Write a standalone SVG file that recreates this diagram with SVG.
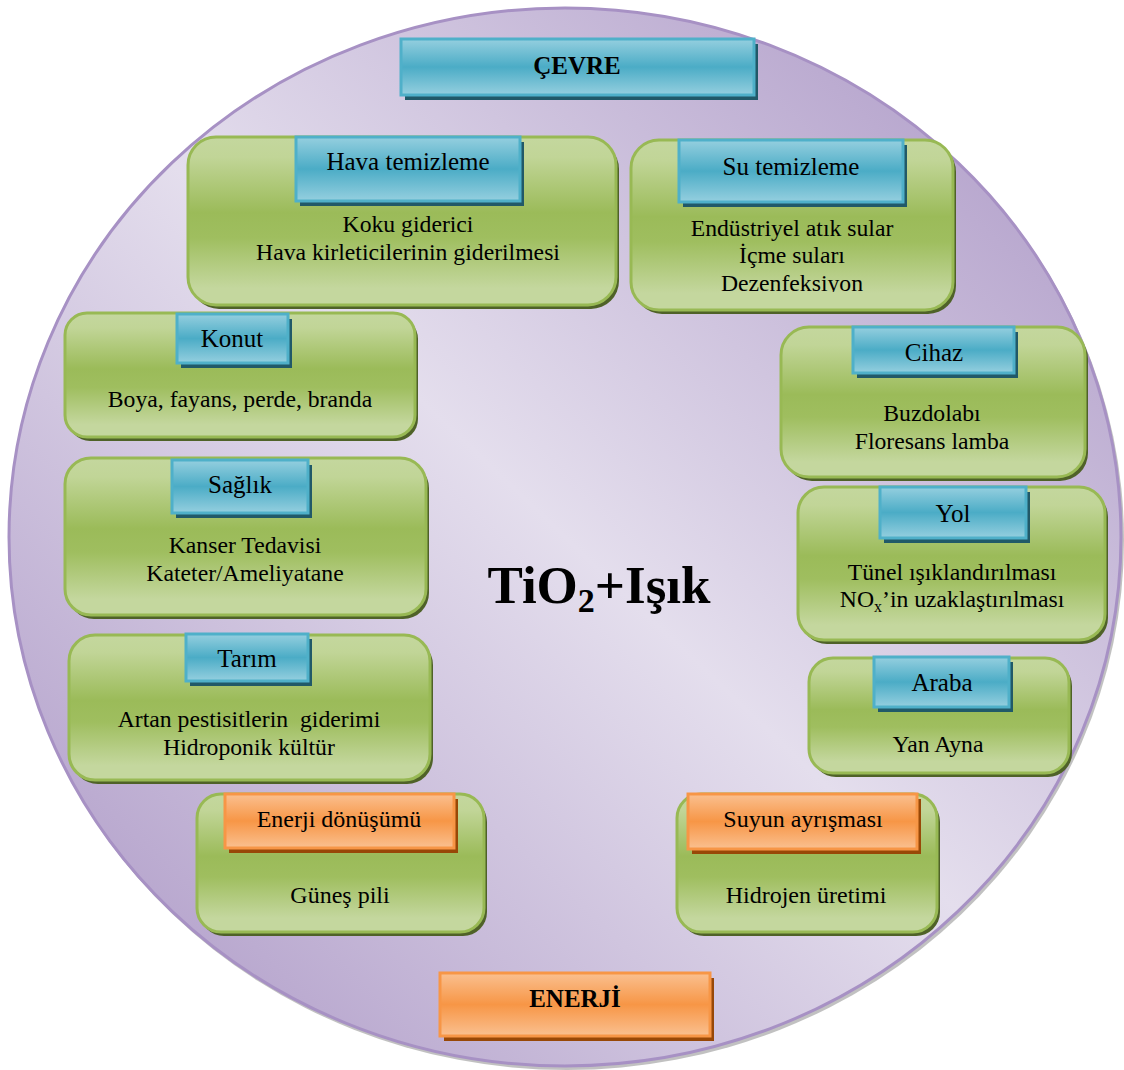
<svg xmlns="http://www.w3.org/2000/svg" width="1124" height="1070" viewBox="0 0 1124 1070" font-family="'Liberation Serif', 'Times New Roman', serif">
<defs>
<linearGradient id="bgG" x1="0" y1="1" x2="1" y2="0">
<stop offset="0" stop-color="#a893c3"/>
<stop offset="0.5" stop-color="#e4deed"/>
<stop offset="1" stop-color="#a893c3"/>
</linearGradient>
<linearGradient id="greenG" x1="0" y1="0" x2="0" y2="1">
<stop offset="0" stop-color="#c4d79e"/>
<stop offset="0.12" stop-color="#c1d597"/>
<stop offset="0.45" stop-color="#9bbb59"/>
<stop offset="0.6" stop-color="#9fbe5f"/>
<stop offset="0.9" stop-color="#c4d79e"/>
<stop offset="1" stop-color="#c4d79e"/>
</linearGradient>
<linearGradient id="blueG" x1="0" y1="0" x2="0" y2="1">
<stop offset="0" stop-color="#95cfdf"/>
<stop offset="0.5" stop-color="#4bacc6"/>
<stop offset="1" stop-color="#95cfdf"/>
</linearGradient>
<linearGradient id="orangeG" x1="0" y1="0" x2="0" y2="1">
<stop offset="0" stop-color="#fac090"/>
<stop offset="0.5" stop-color="#f79646"/>
<stop offset="1" stop-color="#fac090"/>
</linearGradient>
<clipPath id="suClip"><rect x="631" y="140" width="322" height="152"/></clipPath>
<style>
.gbox{fill:url(#greenG);stroke:#98b954;stroke-width:3}
.gsh{fill:#4f6228}
.bbox{fill:url(#blueG);stroke:#4fb0c9;stroke-width:3}
.bsh{fill:#215968}
.obox{fill:url(#orangeG);stroke:#f79646;stroke-width:3}
.osh{fill:#984807}
text{fill:#000;text-anchor:middle;font-family:"Liberation Serif","Times New Roman",serif}
.ht{font-size:25px}
.bt{font-size:23.7px}
.et{font-size:24px}
.big{font-size:25px;font-weight:bold}
</style>
</defs>

<g id="background">
<ellipse cx="567" cy="540" rx="557" ry="530" fill="#8e8e8e" opacity="0.55"/>
<ellipse cx="565" cy="537" rx="556" ry="529" fill="url(#bgG)" stroke="#a791c4" stroke-width="3"/>
</g>

<g id="connectors"/>

<g id="cevre">
<rect class="bsh" x="405" y="44" width="353" height="56"/>
<rect class="bbox" x="401" y="39" width="353" height="56"/>
<text class="big" x="577" y="74">ÇEVRE</text>
</g>

<g id="hava">
<rect class="gsh" x="191" y="141" width="428" height="168" rx="28"/>
<rect class="gbox" x="188" y="137" width="428" height="168" rx="28"/>
<rect class="bsh" x="300" y="142" width="224" height="64"/>
<rect class="bbox" x="296" y="137" width="224" height="64"/>
<text class="ht" x="408" y="170">Hava temizleme</text>
<text class="bt" x="408" y="232">Koku giderici</text>
<text class="bt" x="408" y="260">Hava kirleticilerinin giderilmesi</text>
</g>

<g id="su">
<rect class="gsh" x="634" y="144" width="322" height="170" rx="28"/>
<rect class="gbox" x="631" y="140" width="322" height="170" rx="28"/>
<rect class="bsh" x="683" y="145" width="224" height="62"/>
<rect class="bbox" x="679" y="140" width="224" height="62"/>
<text class="ht" x="791" y="175">Su temizleme</text>
<text class="bt" x="792" y="236">Endüstriyel atık sular</text>
<text class="bt" x="792" y="263">İçme suları</text>
<text class="bt" x="792" y="291" clip-path="url(#suClip)">Dezenfeksiyon</text>
</g>

<g id="konut">
<rect class="gsh" x="68" y="317" width="350" height="124" rx="22"/>
<rect class="gbox" x="65" y="313" width="350" height="124" rx="22"/>
<rect class="bsh" x="181" y="319" width="111" height="49"/>
<rect class="bbox" x="177" y="314" width="111" height="49"/>
<text class="ht" x="232" y="347">Konut</text>
<text class="bt" x="240" y="407">Boya, fayans, perde, branda</text>
</g>

<g id="cihaz">
<rect class="gsh" x="784" y="331" width="304" height="150" rx="28"/>
<rect class="gbox" x="781" y="327" width="304" height="150" rx="28"/>
<rect class="bsh" x="857" y="332" width="161" height="46"/>
<rect class="bbox" x="853" y="327" width="161" height="46"/>
<text class="ht" x="934" y="361">Cihaz</text>
<text class="bt" x="932" y="421">Buzdolabı</text>
<text class="bt" x="932" y="449">Floresans lamba</text>
</g>

<g id="saglik">
<rect class="gsh" x="68" y="462" width="361" height="157" rx="26"/>
<rect class="gbox" x="65" y="458" width="361" height="157" rx="26"/>
<rect class="bsh" x="176" y="465" width="136" height="53"/>
<rect class="bbox" x="172" y="460" width="136" height="53"/>
<text class="ht" x="240" y="493">Sağlık</text>
<text class="bt" x="245" y="553">Kanser Tedavisi</text>
<text class="bt" x="245" y="581">Kateter/Ameliyatane</text>
</g>

<g id="yol">
<rect class="gsh" x="801" y="491" width="307" height="153" rx="26"/>
<rect class="gbox" x="798" y="487" width="307" height="153" rx="26"/>
<rect class="bsh" x="884" y="492" width="146" height="51"/>
<rect class="bbox" x="880" y="487" width="146" height="51"/>
<text class="ht" x="953" y="522">Yol</text>
<text class="bt" x="952" y="580">Tünel ışıklandırılması</text>
<text class="bt" x="952" y="607">NO<tspan font-size="16" dy="5">x</tspan><tspan dy="-5">’in uzaklaştırılması</tspan></text>
</g>

<g id="tarim">
<rect class="gsh" x="72" y="639" width="361" height="145" rx="26"/>
<rect class="gbox" x="69" y="635" width="361" height="145" rx="26"/>
<rect class="bsh" x="190" y="639" width="122" height="47"/>
<rect class="bbox" x="186" y="634" width="122" height="47"/>
<text class="ht" x="247" y="667">Tarım</text>
<text class="bt" x="249" y="727" xml:space="preserve">Artan pestisitlerin  giderimi</text>
<text class="bt" x="249" y="755">Hidroponik kültür</text>
</g>

<g id="araba">
<rect class="gsh" x="812" y="662" width="260" height="115" rx="24"/>
<rect class="gbox" x="809" y="658" width="260" height="115" rx="24"/>
<rect class="bsh" x="878" y="662" width="135" height="50"/>
<rect class="bbox" x="874" y="657" width="135" height="50"/>
<text class="ht" x="942" y="691">Araba</text>
<text class="bt" x="938" y="752">Yan Ayna</text>
</g>

<g id="enerji-donusumu">
<rect class="gsh" x="200" y="798" width="287" height="138" rx="24"/>
<rect class="gbox" x="197" y="794" width="287" height="138" rx="24"/>
<rect class="osh" x="229" y="799" width="229" height="54"/>
<rect class="obox" x="225" y="794" width="229" height="54"/>
<text class="et" x="339" y="827">Enerji dönüşümü</text>
<text class="et" x="340" y="903">Güneş pili</text>
</g>

<g id="suyun-ayrismasi">
<rect class="gsh" x="680" y="798" width="260" height="138" rx="24"/>
<rect class="gbox" x="677" y="794" width="260" height="138" rx="24"/>
<rect class="osh" x="692" y="799" width="229" height="55"/>
<rect class="obox" x="688" y="794" width="229" height="55"/>
<text class="et" x="803" y="827">Suyun ayrışması</text>
<text class="et" x="806" y="903">Hidrojen üretimi</text>
</g>

<g id="enerji">
<rect class="osh" x="444" y="978" width="270" height="63"/>
<rect class="obox" x="440" y="973" width="270" height="63"/>
<text class="big" x="575" y="1007">ENERJİ</text>
</g>

<g id="center">
<text x="599" y="603" font-size="53" font-weight="bold">TiO<tspan font-size="34" dy="9">2</tspan><tspan dy="-9">+Işık</tspan></text>
</g>
</svg>
